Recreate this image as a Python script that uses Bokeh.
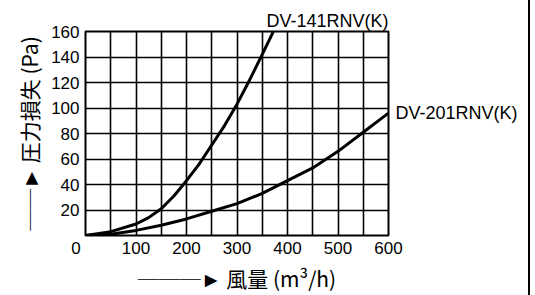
from bokeh.plotting import figure
from bokeh.models import Range1d, FixedTicker, LinearAxis
from bokeh.embed import file_html
from bokeh.resources import INLINE

# Data
air_141 = [0, 50, 100, 125, 150, 175, 200, 225, 250, 275, 300, 325, 350, 372]
pa_141 = [0, 3, 9, 14, 21, 31, 43, 56, 71, 86, 103, 122, 142, 160]
air_201 = [0, 50, 100, 150, 200, 250, 300, 350, 400, 450, 500, 550, 600]
pa_201 = [0, 1, 4, 8, 13, 19, 25, 33, 43, 53, 66, 81, 96]
name_141 = "DV-141RNV(K)"
name_201 = "DV-201RNV(K)"

x_ticks = [0, 50, 100, 150, 200, 250, 300, 350, 400, 450, 500, 550, 600]
x_labels = {0: "0\u00a0\u00a0\u00a0\u00a0", 100: "100", 200: "200", 300: "300",
            400: "400", 500: "500", 600: "600"}
y_ticks = [0, 20, 40, 60, 80, 100, 120, 140, 160]
y_labels = {0: "", 20: "20", 40: "40", 60: "60", 80: "80", 100: "100",
            120: "120", 140: "140", 160: "160"}
x_title = "───► 風量 (m³/h)"
y_title = "──► 圧力損失 (Pa)"

p = figure(width=530, height=295, x_range=Range1d(0, 600), y_range=Range1d(0, 160),
           output_backend="svg", toolbar_location=None,
           min_border_left=85, min_border_right=142, min_border_top=31, min_border_bottom=58,
           title=name_141)
p.styles = {"border-right": "2px solid black"}
p.background_fill_color = "white"
p.border_fill_color = "white"
p.outline_line_color = "black"
p.outline_line_width = 2

p.title.align = "right"
p.title.text_font = "Liberation Sans"
p.title.text_font_size = "18px"
p.title.text_font_style = "normal"
p.title.text_color = "black"
p.title.standoff = 1
p.title.offset = 0

p.xaxis.ticker = FixedTicker(ticks=x_ticks)
p.yaxis.ticker = FixedTicker(ticks=y_ticks)
xo = {k: v for k, v in x_labels.items()}
for t in x_ticks:
    if t not in x_labels:
        xo[t] = ""
p.xaxis.major_label_overrides = xo
p.yaxis.major_label_overrides = y_labels

# right-hand axis used only to name the second curve at its end value
r_axis = LinearAxis(ticker=FixedTicker(ticks=[pa_201[-1]]),
                    major_label_overrides={pa_201[-1]: name_201})
p.add_layout(r_axis, "right")

for ax in (p.xaxis[0], p.yaxis[0], r_axis):
    ax.axis_line_color = None
    ax.major_tick_line_color = None
    ax.minor_tick_line_color = None
    ax.major_label_text_font = "Liberation Sans"
    ax.major_label_text_font_size = "17px"
    ax.major_label_text_color = "black"
    ax.axis_label_text_font = "Noto Sans CJK JP"
    ax.axis_label_text_font_size = "21px"
    ax.axis_label_text_font_style = "normal"
    ax.axis_label_text_color = "black"
r_axis.major_label_text_font_size = "18px"
r_axis.major_label_standoff = 1
p.xaxis[0].major_label_standoff = -3
p.yaxis[0].major_label_standoff = 0
p.xaxis[0].axis_label = x_title
p.yaxis[0].axis_label = y_title
p.xaxis[0].axis_label_standoff = 2
p.yaxis[0].axis_label_standoff = 4

p.xgrid.ticker = FixedTicker(ticks=x_ticks)
p.ygrid.ticker = FixedTicker(ticks=y_ticks)
for g in (p.xgrid, p.ygrid):
    g.grid_line_color = "black"
    g.grid_line_width = 1.6
    g.grid_line_alpha = 1

p.line(air_141, pa_141, line_color="black", line_width=3)
p.line(air_201, pa_201, line_color="black", line_width=3)

open("out.html", "w").write(file_html(p, INLINE))
